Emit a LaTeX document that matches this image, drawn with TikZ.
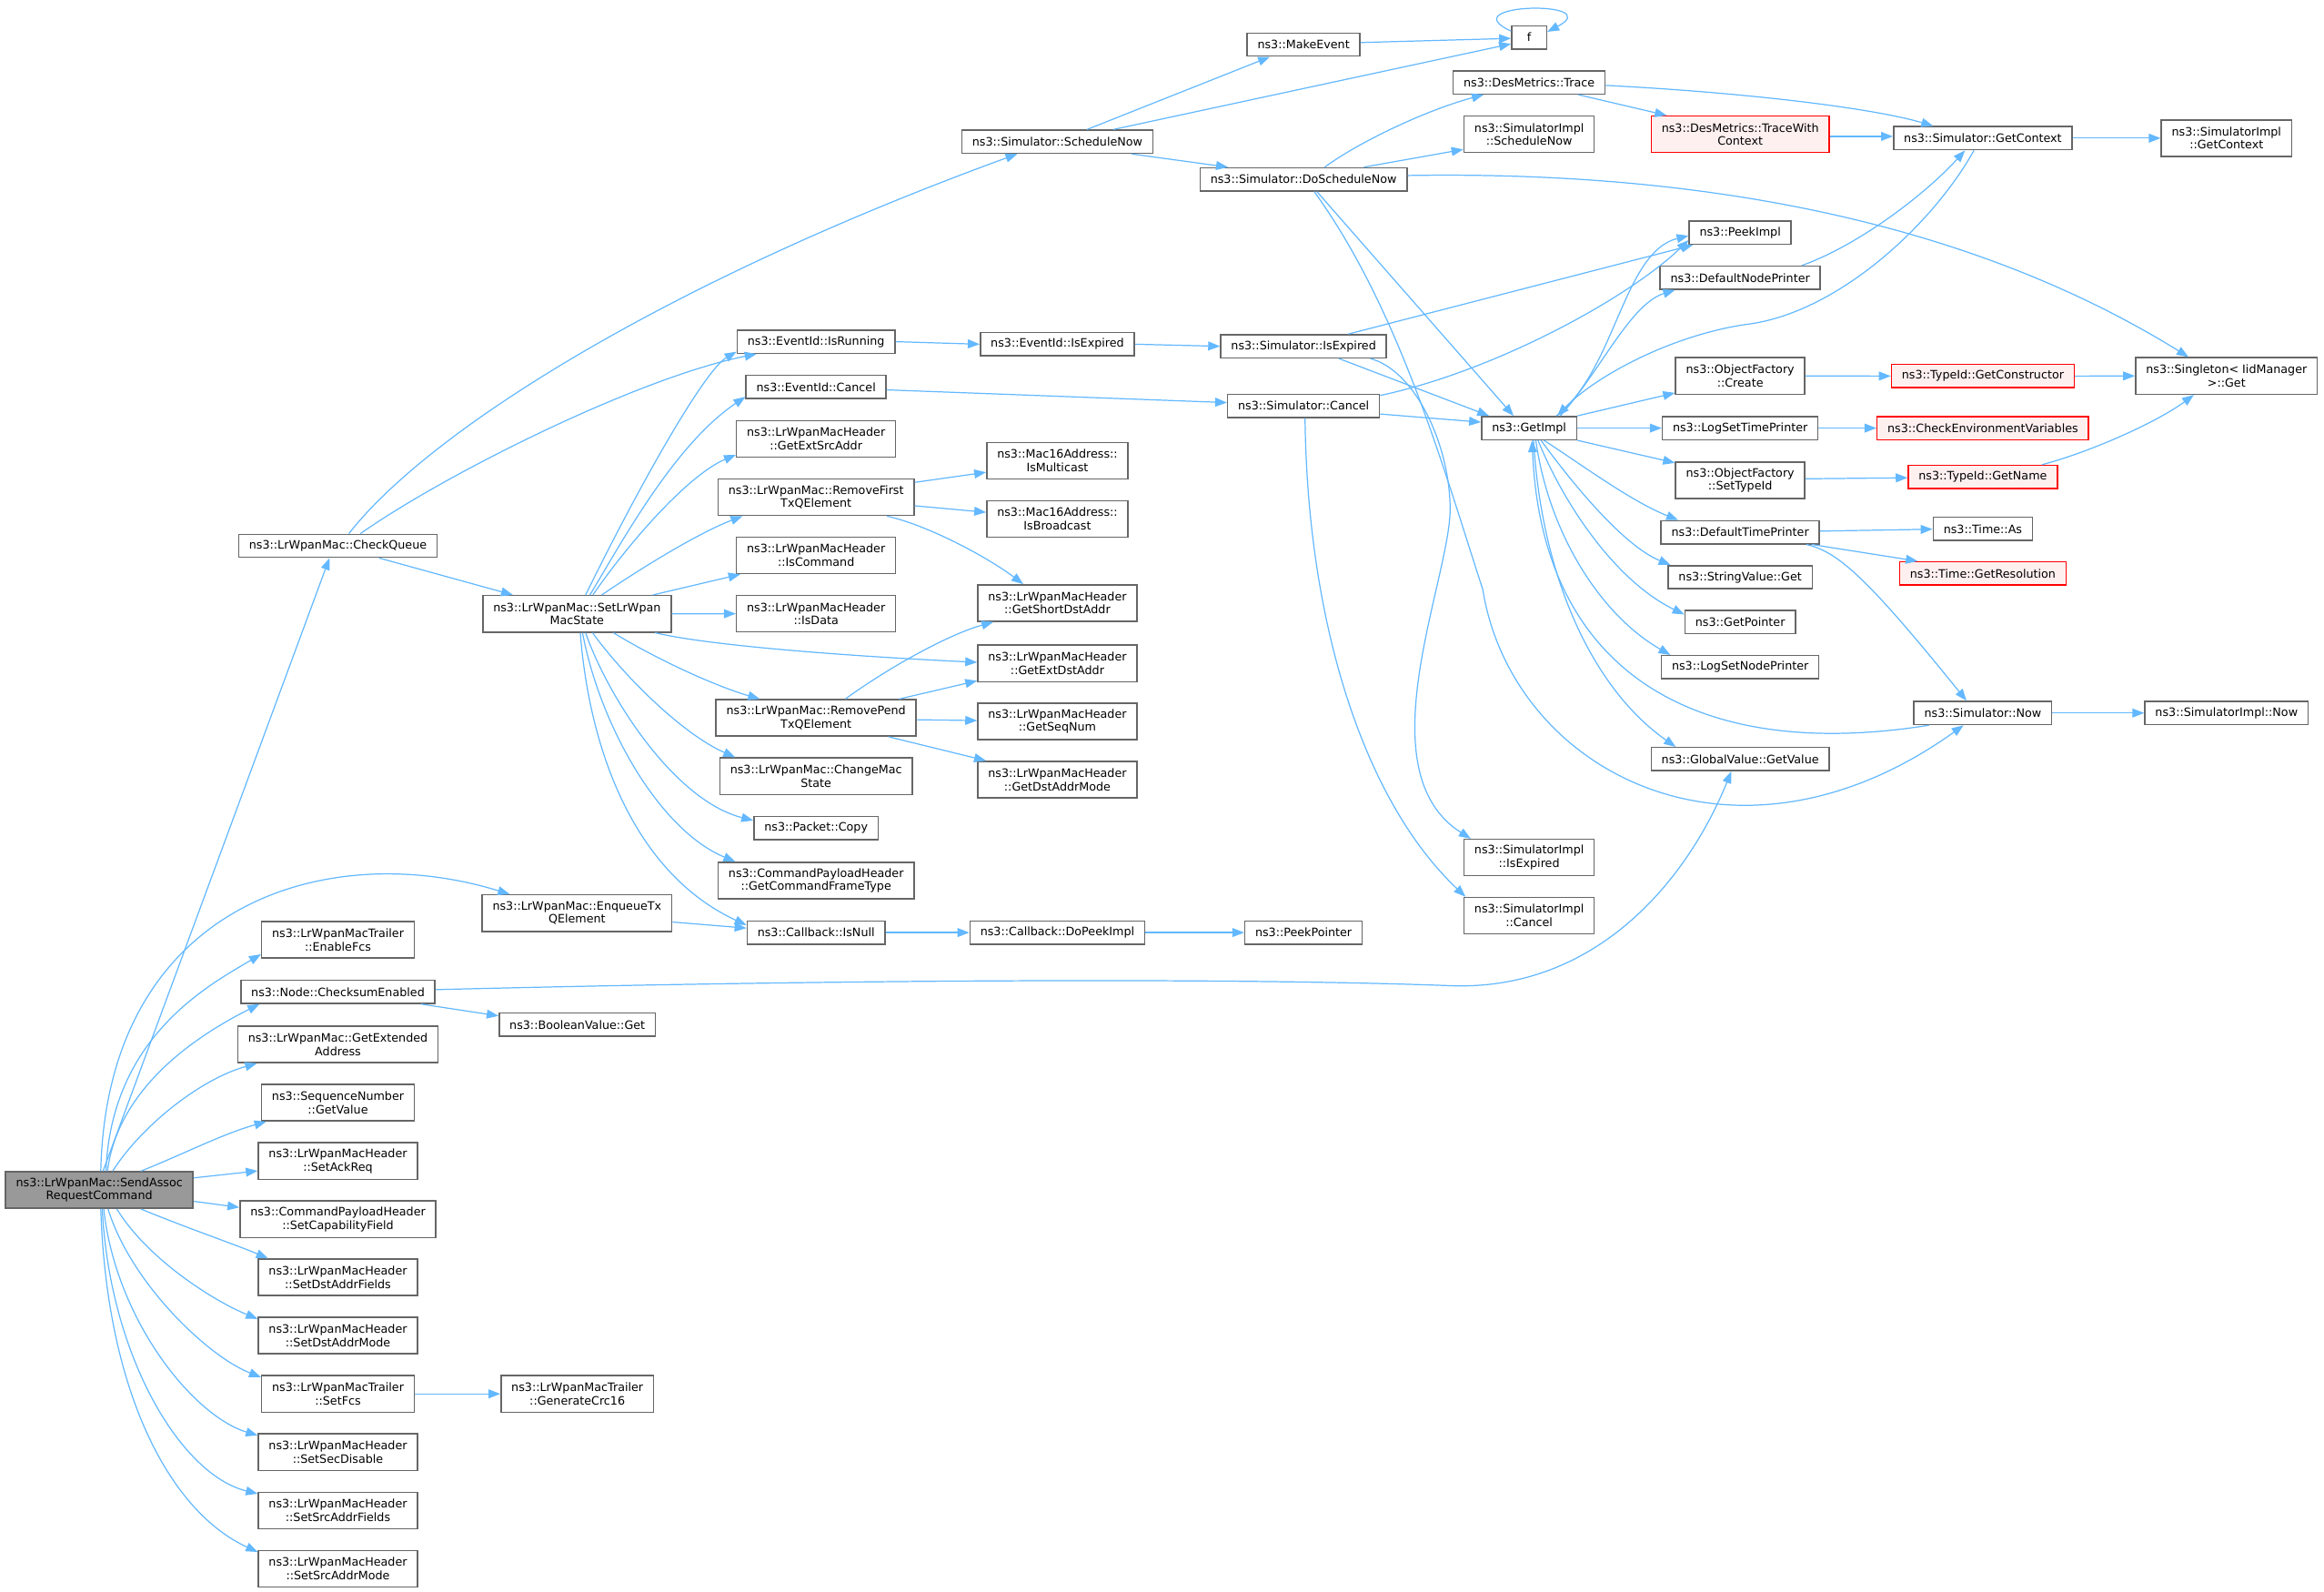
\documentclass[tikz,border=0pt]{standalone}
\usepackage{fontspec}
\setmainfont{DejaVu Sans}
\usetikzlibrary{arrows.meta}

\definecolor{edgeblue}{HTML}{63B8FF}
\definecolor{boxgray}{HTML}{666666}
\definecolor{rootgray}{HTML}{999999}
\definecolor{cutred}{HTML}{FF0000}
\definecolor{cutfill}{HTML}{FFF0F0}

\tikzset{
  func/.style={draw=boxgray, fill=white, line width=0.9pt, inner xsep=7pt, inner ysep=2pt,
    minimum height=15.6pt, align=center, font=\fontsize{7.8pt}{9pt}\selectfont},
  func2/.style={func, minimum height=24.6pt},
  cut/.style={draw=cutred, fill=cutfill},
  root/.style={fill=rootgray},
  calls/.style={draw=edgeblue, line width=0.75pt, -{Triangle[length=8pt,width=6pt]}}
}

\begin{document}
\begin{tikzpicture}[x=1pt, y=-1pt]
  \useasboundingbox (0,0) rectangle (1568,1073.4);

  % 调用者
  \node[func2, root] (sendassoc) at (67,802.8) {ns3::LrWpanMac::SendAssoc\\RequestCommand};

  % 第一列
  \node[func]  (checkqueue)   at (228,368.2)  {ns3::LrWpanMac::CheckQueue};
  \node[func2] (enablefcs)    at (228,634)    {ns3::LrWpanMacTrailer\\::EnableFcs};
  \node[func]  (checksum)     at (228,669.1)  {ns3::Node::ChecksumEnabled};
  \node[func2] (getextaddr)   at (228,704.6)  {ns3::LrWpanMac::GetExtended\\Address};
  \node[func2] (seqvalue)     at (228,743.9)  {ns3::SequenceNumber\\::GetValue};
  \node[func2] (setackreq)    at (228,783.2)  {ns3::LrWpanMacHeader\\::SetAckReq};
  \node[func2] (setcap)       at (228,822.5)  {ns3::CommandPayloadHeader\\::SetCapabilityField};
  \node[func2] (setdstfields) at (228,861.7)  {ns3::LrWpanMacHeader\\::SetDstAddrFields};
  \node[func2] (setdstmode)   at (228,901)    {ns3::LrWpanMacHeader\\::SetDstAddrMode};
  \node[func2] (setfcs)       at (228,940.3)  {ns3::LrWpanMacTrailer\\::SetFcs};
  \node[func2] (setsecdis)    at (228,979.6)  {ns3::LrWpanMacHeader\\::SetSecDisable};
  \node[func2] (setsrcfields) at (228,1018.9) {ns3::LrWpanMacHeader\\::SetSrcAddrFields};
  \node[func2] (setsrcmode)   at (228,1058.2) {ns3::LrWpanMacHeader\\::SetSrcAddrMode};

  % 第二列
  \node[func2] (setstate)  at (389.3,414.1) {ns3::LrWpanMac::SetLrWpan\\MacState};
  \node[func2] (enqueuetx) at (389.3,616)   {ns3::LrWpanMac::EnqueueTx\\QElement};
  \node[func]  (boolget)   at (389.5,691.3) {ns3::BooleanValue::Get};
  \node[func2] (gencrc)    at (389.5,940.3) {ns3::LrWpanMacTrailer\\::GenerateCrc16};

  % 第三列
  \node[func]  (isrunning)   at (550.6,230.5) {ns3::EventId::IsRunning};
  \node[func]  (evcancel)    at (550.6,261)   {ns3::EventId::Cancel};
  \node[func2] (getextsrc)   at (550.6,296.1) {ns3::LrWpanMacHeader\\::GetExtSrcAddr};
  \node[func2] (rmfirst)     at (550.6,335.4) {ns3::LrWpanMac::RemoveFirst\\TxQElement};
  \node[func2] (iscommand)   at (550.6,374.7) {ns3::LrWpanMacHeader\\::IsCommand};
  \node[func2] (isdata)      at (550.6,414)   {ns3::LrWpanMacHeader\\::IsData};
  \node[func2] (rmpend)      at (550.6,484.3) {ns3::LrWpanMac::RemovePend\\TxQElement};
  \node[func2] (changestate) at (550.6,523.6) {ns3::LrWpanMac::ChangeMac\\State};
  \node[func]  (pktcopy)     at (550.6,558.7) {ns3::Packet::Copy};
  \node[func2] (getcmdtype)  at (550.6,594)   {ns3::CommandPayloadHeader\\::GetCommandFrameType};
  \node[func]  (isnull)      at (550.6,629.1) {ns3::Callback::IsNull};

  % 第四列
  \node[func]  (schednow)    at (713.4,95.6)  {ns3::Simulator::ScheduleNow};
  \node[func]  (evexpired)   at (713.4,232.2) {ns3::EventId::IsExpired};
  \node[func2] (ismulti)     at (713.4,310.8) {ns3::Mac16Address::\\IsMulticast};
  \node[func2] (isbroad)     at (713.4,350.1) {ns3::Mac16Address::\\IsBroadcast};
  \node[func2] (getshortdst) at (713.4,406.8) {ns3::LrWpanMacHeader\\::GetShortDstAddr};
  \node[func2] (getextdst)   at (713.4,447.5) {ns3::LrWpanMacHeader\\::GetExtDstAddr};
  \node[func2] (getseqnum)   at (713.4,486.7) {ns3::LrWpanMacHeader\\::GetSeqNum};
  \node[func2] (getdstmode)  at (713.4,525.9) {ns3::LrWpanMacHeader\\::GetDstAddrMode};
  \node[func]  (dopeek)      at (713.4,629.1) {ns3::Callback::DoPeekImpl};

  % 第五列
  \node[func] (makeevent)  at (879.5,30.1)  {ns3::MakeEvent};
  \node[func] (doschednow) at (879.5,121)   {ns3::Simulator::DoScheduleNow};
  \node[func] (simexpired) at (879.5,233.6) {ns3::Simulator::IsExpired};
  \node[func] (simcancel)  at (879.5,273.8) {ns3::Simulator::Cancel};
  \node[func] (peekptr)    at (879.5,629.1) {ns3::PeekPointer};

  % 第六列
  \node[func, minimum width=23.6pt] (f) at (1031.7,25.2) {f};
  \node[func]  (trace)       at (1031.7,55.6)  {ns3::DesMetrics::Trace};
  \node[func2] (implsched)   at (1031.7,90.6)  {ns3::SimulatorImpl\\::ScheduleNow};
  \node[func]  (getimpl)     at (1031.7,288.8) {ns3::GetImpl};
  \node[func2] (implexpired) at (1031.7,578.5) {ns3::SimulatorImpl\\::IsExpired};
  \node[func2] (implcancel)  at (1031.7,617.7) {ns3::SimulatorImpl\\::Cancel};

  % 第七列
  \node[func2, cut] (tracectx) at (1174.1,90.6) {ns3::DesMetrics::TraceWith\\Context};
  \node[func]  (peekimpl)    at (1174.1,157)   {ns3::PeekImpl};
  \node[func]  (nodeprinter) at (1174.1,187.4) {ns3::DefaultNodePrinter};
  \node[func2] (ofcreate)    at (1174.1,253.6) {ns3::ObjectFactory\\::Create};
  \node[func]  (logtime)     at (1174.1,288.8) {ns3::LogSetTimePrinter};
  \node[func2] (ofsettype)   at (1174.1,324)   {ns3::ObjectFactory\\::SetTypeId};
  \node[func]  (timeprinter) at (1174.1,359.1) {ns3::DefaultTimePrinter};
  \node[func]  (strget)      at (1174.1,389.4) {ns3::StringValue::Get};
  \node[func]  (getptr)      at (1174.1,419.5) {ns3::GetPointer};
  \node[func]  (lognode)     at (1174.1,450.1) {ns3::LogSetNodePrinter};
  \node[func]  (globalget)   at (1174.1,512.1) {ns3::GlobalValue::GetValue};

  % 第八列
  \node[func]      (getcontext) at (1337.8,93.2)  {ns3::Simulator::GetContext};
  \node[func, cut] (getctor)    at (1337.8,253.7) {ns3::TypeId::GetConstructor};
  \node[func, cut] (checkenv)   at (1337.8,288.8) {ns3::CheckEnvironmentVariables};
  \node[func, cut] (getname)    at (1337.8,321.7) {ns3::TypeId::GetName};
  \node[func]      (timeas)     at (1337.8,356.8) {ns3::Time::As};
  \node[func, cut] (getres)     at (1337.8,386.8) {ns3::Time::GetResolution};
  \node[func]      (simnow)     at (1337.8,481)   {ns3::Simulator::Now};

  % 第九列
  \node[func2] (implctx)   at (1502.2,93.2)  {ns3::SimulatorImpl\\::GetContext};
  \node[func2] (singleton) at (1502.2,253.6) {ns3::Singleton< IidManager\\>::Get};
  \node[func]  (implnow)   at (1502.2,481)   {ns3::SimulatorImpl::Now};

  % 调用者的边
  \draw[calls] ([xshift=2.5pt]sendassoc.north) -- ([xshift=-5.7pt]checkqueue.south);
  \draw[calls] ([xshift=1pt]sendassoc.north) .. controls (72,610) and (220,565) .. ([xshift=19pt]enqueuetx.north west);
  \draw[calls] ([xshift=4.5pt]sendassoc.north) .. controls (75,700) and (140,665) .. ([yshift=3pt]enablefcs.south west);
  \draw[calls] ([xshift=5.5pt]sendassoc.north) .. controls (80,730) and (140,695) .. ([xshift=13pt]checksum.south west);
  \draw[calls] ([xshift=9pt]sendassoc.north) .. controls (95,760) and (135,728) .. ([xshift=13.4pt]getextaddr.south west);
  \draw[calls] ([xshift=28pt]sendassoc.north) .. controls (125,778) and (150,765) .. ([xshift=3.6pt]seqvalue.south west);
  \draw[calls] ([yshift=8.2pt]sendassoc.east) -- ([yshift=-6.7pt]setackreq.west);
  \draw[calls] ([yshift=-7.6pt]sendassoc.east) -- ([yshift=8pt]setcap.west);
  \draw[calls] ([xshift=28pt]sendassoc.south) .. controls (125,828) and (160,840) .. ([xshift=7pt]setdstfields.north west);
  \draw[calls] ([xshift=11.8pt]sendassoc.south) .. controls (100,850) and (145,878) .. ([yshift=-1.5pt]setdstmode.north west);
  \draw[calls] ([xshift=5.9pt]sendassoc.south) .. controls (88,865) and (140,915) .. ([yshift=-1.5pt]setfcs.north west);
  \draw[calls] ([xshift=3pt]sendassoc.south) .. controls (78,890) and (130,955) .. ([yshift=-1.5pt]setsecdis.north west);
  \draw[calls] ([xshift=2pt]sendassoc.south) .. controls (74,915) and (122,995) .. ([yshift=-1.5pt]setsrcfields.north west);
  \draw[calls] ([xshift=1pt]sendassoc.south) .. controls (72,940) and (115,1020) .. ([yshift=-1.5pt]setsrcmode.north west);

  % 第一列的边
  \draw[calls] ([xshift=7.4pt]checkqueue.north) .. controls (290,290) and (450,190) .. ([xshift=-27pt]schednow.south);
  \draw[calls] ([xshift=15.2pt]checkqueue.north) .. controls (300,320) and (430,255) .. ([xshift=13.5pt]isrunning.south west);
  \draw[calls] ([xshift=27.8pt]checkqueue.south) -- ([xshift=20.7pt]setstate.north west);
  \draw[calls] ([xshift=56pt]checksum.south) -- ([yshift=6pt]boolget.west);
  \draw[calls] ([yshift=1.5pt]checksum.east) .. controls (600,660) and (850,660) .. (980,665)
    .. controls (1080,668) and (1140,590) .. ([xshift=-6pt]globalget.south);
  \draw[calls] (setfcs.east) -- (gencrc.west);

  % SetLrWpanMacState 的边
  \draw[calls] ([xshift=5.8pt]setstate.north) .. controls (430,330) and (475,250) .. ([yshift=1.5pt]isrunning.south west);
  \draw[calls] ([xshift=8.7pt]setstate.north) .. controls (420,365) and (455,300) .. ([yshift=-6.7pt]evcancel.west);
  \draw[calls] ([xshift=10.7pt]setstate.north) .. controls (425,365) and (465,320) .. ([yshift=2pt]getextsrc.south west);
  \draw[calls] ([xshift=16.7pt]setstate.north) .. controls (430,385) and (470,360) .. ([xshift=17pt]rmfirst.south west);
  \draw[calls] ([xshift=51.2pt]setstate.north) -- ([xshift=3pt]iscommand.south west);
  \draw[calls] (setstate.east) -- (isdata.west);
  \draw[calls] ([xshift=52.7pt]setstate.south) .. controls (480,436) and (580,443) .. ([yshift=0.7pt]getextdst.west);
  \draw[calls] ([xshift=24.6pt]setstate.south) .. controls (440,443) and (480,462) .. ([xshift=30pt]rmpend.north west);
  \draw[calls] ([xshift=10.5pt]setstate.south) .. controls (420,455) and (460,495) .. ([xshift=10.8pt]changestate.north west);
  \draw[calls] ([xshift=5.8pt]setstate.south) .. controls (410,470) and (455,540) .. ([yshift=5.2pt]pktcopy.west);
  \draw[calls] ([xshift=3.7pt]setstate.south) .. controls (405,490) and (445,560) .. ([xshift=12pt]getcmdtype.north west);
  \draw[calls] ([xshift=2.2pt]setstate.south) .. controls (398,510) and (430,590) .. ([yshift=5pt]isnull.west);
  \draw[calls] ([yshift=-6pt]enqueuetx.east) -- ([yshift=3pt]isnull.west);

  % 第三列的边
  \draw[calls] (isrunning.east) -- (evexpired.west);
  \draw[calls] ([yshift=-2pt]evcancel.east) -- ([yshift=2.2pt]simcancel.west);
  \draw[calls] ([yshift=10pt]rmfirst.east) -- ([yshift=-7.8pt]ismulti.west);
  \draw[calls] ([yshift=-5.8pt]rmfirst.east) -- ([yshift=4.5pt]isbroad.west);
  \draw[calls] ([xshift=47.7pt]rmfirst.south) .. controls (625,354) and (665,375) .. ([xshift=-23pt]getshortdst.north);
  \draw[calls] ([xshift=19.7pt]rmpend.north) .. controls (600,450) and (640,428) .. ([xshift=11pt]getshortdst.south west);
  \draw[calls] ([xshift=56pt]rmpend.north) -- ([yshift=1pt]getextdst.south west);
  \draw[calls] ([yshift=-1.2pt]rmpend.east) -- ([yshift=0.6pt]getseqnum.west);
  \draw[calls] ([xshift=49pt]rmpend.south) -- ([xshift=6pt]getdstmode.north west);
  \draw[calls] (isnull.east) -- (dopeek.west);
  \draw[calls] (dopeek.east) -- (peekptr.west);

  % 第四列的边
  \draw[calls] ([xshift=20pt]schednow.north) -- ([xshift=-22.7pt]makeevent.south);
  \draw[calls] ([xshift=37.7pt]schednow.north) -- ([yshift=-4.4pt]f.west);
  \draw[calls] ([xshift=50pt]schednow.south) -- ([xshift=-51pt]doschednow.north);
  \draw[calls] (evexpired.east) -- (simexpired.west);
  \draw[calls] ([yshift=1.4pt]makeevent.east) -- ([yshift=-0.7pt]f.west);
  \draw[calls] ([yshift=-4pt]f.north west) .. controls (978,2) and (1085,0) .. ([yshift=-4.5pt]f.north east);

  % 第五列的边
  \draw[calls] ([xshift=14.3pt]doschednow.north) .. controls (915,97) and (960,75) .. ([xshift=-30.7pt]trace.south);
  \draw[calls] ([xshift=40.7pt]doschednow.north) -- ([yshift=-10.2pt]implsched.west);
  \draw[calls] ([yshift=2.6pt]doschednow.east) .. controls (1150,115) and (1330,150) .. ([xshift=-25.6pt]singleton.north);
  \draw[calls] ([xshift=9pt]doschednow.south) -- ([xshift=-10.5pt]getimpl.north);
  \draw[calls] ([xshift=7.2pt]doschednow.south) .. controls (945,210) and (975,320) .. (1000.4,397.6)
    .. controls (1020,520) and (1170,600) .. ([xshift=-13pt]simnow.south);
  \draw[calls] ([xshift=30.2pt]simexpired.north) -- ([xshift=3pt]peekimpl.south west);
  \draw[calls] ([xshift=23.8pt]simexpired.south) -- ([xshift=-27pt]getimpl.north);
  \draw[calls] ([xshift=45pt]simexpired.south) .. controls (955,250) and (978,300) .. (978.4,342.8)
    .. controls (978.8,390) and (920,520) .. ([xshift=5pt]implexpired.north west);
  \draw[calls] ([yshift=7pt]simcancel.east) .. controls (1010,250) and (1100,200) .. ([yshift=-5pt]peekimpl.west);
  \draw[calls] ([yshift=-5.5pt]simcancel.east) -- ([yshift=4pt]getimpl.west);
  \draw[calls] ([xshift=1pt]simcancel.south) .. controls (882,420) and (920,540) .. ([xshift=1.5pt]implcancel.north west);

  % 第六列的边
  \draw[calls] ([xshift=33pt]trace.south) -- ([xshift=-49.6pt]tracectx.north);
  \draw[calls] ([yshift=-2pt]trace.east) .. controls (1170,62) and (1260,72) .. ([xshift=-33.5pt]getcontext.north);
  \draw[calls] ([xshift=18.3pt]getimpl.north) .. controls (1090,250) and (1095,170) .. ([yshift=-2pt]peekimpl.west);
  \draw[calls] ([xshift=21pt]getimpl.north) .. controls (1080,250) and (1100,205) .. ([xshift=10.5pt]nodeprinter.south west);
  \draw[calls] (getimpl.north east) -- ([yshift=1.3pt]ofcreate.south west);
  \draw[calls] (getimpl.east) -- (logtime.west);
  \draw[calls] (getimpl.south east) -- ([yshift=-1pt]ofsettype.north west);
  \draw[calls] ([xshift=10pt]getimpl.south) .. controls (1065,312) and (1100,338) .. ([xshift=12pt]timeprinter.north west);
  \draw[calls] ([xshift=8pt]getimpl.south) .. controls (1060,325) and (1095,368) .. ([xshift=2pt]strget.north west);
  \draw[calls] ([xshift=6pt]getimpl.south) .. controls (1055,340) and (1090,392) .. ([yshift=5pt]getptr.west);
  \draw[calls] ([xshift=4.5pt]getimpl.south) .. controls (1045,360) and (1080,415) .. ([xshift=6.5pt]lognode.north west);
  \draw[calls] ([xshift=3pt]getimpl.south) .. controls (1040,390) and (1075,465) .. ([xshift=17pt]globalget.north west);

  % 第七列的边
  \draw[calls] ([yshift=-1.4pt]tracectx.east) -- ([yshift=1.2pt]getcontext.west);
  \draw[calls] ([xshift=41.5pt]nodeprinter.north) .. controls (1255,165) and (1300,130) .. ([xshift=-12pt]getcontext.south);
  \draw[calls] ([xshift=-6pt]getcontext.south) .. controls (1305,150) and (1240,212) .. (1177,219)
    .. controls (1125,227) and (1075,255) .. ([xshift=19pt]getimpl.north);
  \draw[calls] (ofcreate.east) -- (getctor.west);
  \draw[calls] (logtime.east) -- (checkenv.west);
  \draw[calls] ([yshift=1pt]ofsettype.east) -- ([yshift=-0.6pt]getname.west);
  \draw[calls] ([yshift=0.8pt]timeprinter.east) -- ([yshift=-0.2pt]timeas.west);
  \draw[calls] ([xshift=48.5pt]timeprinter.south) -- ([xshift=12.6pt]getres.north west);
  \draw[calls] ([xshift=44.6pt]timeprinter.south) .. controls (1240,372) and (1260,390) .. ([xshift=-11pt]simnow.north);

  % 第八列的边
  \draw[calls] (getcontext.east) -- (implctx.west);
  \draw[calls] (getctor.east) -- (singleton.west);
  \draw[calls] ([xshift=40pt]getname.north) .. controls (1410,305) and (1455,285) .. ([xshift=-22pt]singleton.south);
  \draw[calls] (simnow.east) -- (implnow.west);
  \draw[calls] ([xshift=10.6pt]simnow.south west) .. controls (1140,515) and (1040,450) .. ([xshift=2pt]getimpl.south);
\end{tikzpicture}
\end{document}
